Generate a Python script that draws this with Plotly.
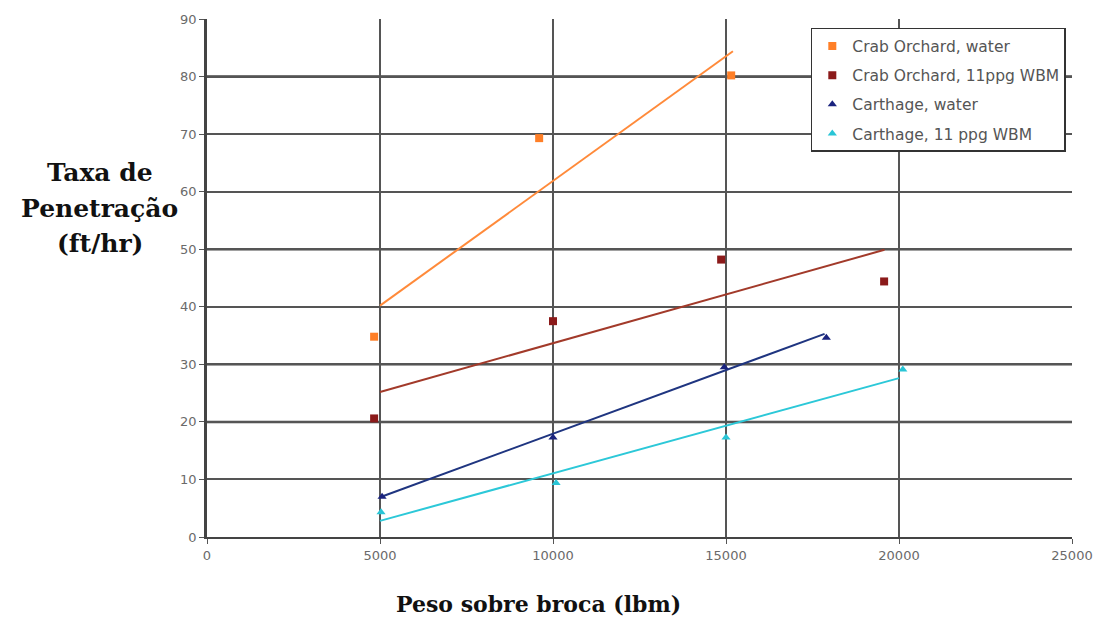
import plotly.graph_objects as go

# Data points
co_water_x = [4830, 9600, 15150]
co_water_y = [34.8, 69.3, 80.2]
co_wbm_x = [4830, 10000, 14860, 19570]
co_wbm_y = [20.6, 37.5, 48.2, 44.4]
ca_water_x = [5060, 10000, 14950, 17900]
ca_water_y = [7.0, 17.3, 29.5, 34.6]
ca_wbm_x = [5030, 10090, 15000, 20110]
ca_wbm_y = [4.3, 9.4, 17.3, 29.1]

# Trend line endpoints
co_water_tx = [5000, 15200]
co_water_ty = [40.2, 84.4]
co_wbm_tx = [5000, 19580]
co_wbm_ty = [25.2, 49.9]
ca_water_tx = [5000, 17850]
ca_water_ty = [6.9, 35.3]
ca_wbm_tx = [5000, 20000]
ca_wbm_ty = [2.8, 27.6]

x_ticks = [0, 5000, 10000, 15000, 20000, 25000]
x_ticklabels = ["0", "5000", "10000", "15000", "20000", "25000"]
y_ticks = [0, 10, 20, 30, 40, 50, 60, 70, 80, 90]

names = ["Crab Orchard, water", "Crab Orchard, 11ppg WBM", "Carthage, water", "Carthage, 11 ppg WBM"]
colors = ["#ff7f27", "#8b1a1a", "#1a237e", "#29c5d6"]
line_colors = ["#ff8a3a", "#a23a2a", "#1f3580", "#2cc8d8"]
symbols = ["square", "square", "triangle-up", "triangle-up"]

xs = [co_water_x, co_wbm_x, ca_water_x, ca_wbm_x]
ys = [co_water_y, co_wbm_y, ca_water_y, ca_wbm_y]
txs = [co_water_tx, co_wbm_tx, ca_water_tx, ca_wbm_tx]
tys = [co_water_ty, co_wbm_ty, ca_water_ty, ca_wbm_ty]

fig = go.Figure()
for i in range(4):
    fig.add_trace(go.Scatter(x=txs[i], y=tys[i], mode="lines",
                             line=dict(color=line_colors[i], width=2),
                             showlegend=False, hoverinfo="skip"))
for i in range(4):
    fig.add_trace(go.Scatter(x=xs[i], y=ys[i], mode="markers", name=names[i],
                             legendgroup="g%d" % i,
                             marker=dict(color=colors[i], symbol=symbols[i], size=8,
                                         line=dict(width=0))))

# thicker horizontal grid lines (as in the scanned original)
for yv in [80, 50, 30, 20]:
    fig.add_shape(type="line", xref="x", yref="y", x0=0, x1=25000, y0=yv, y1=yv,
                  line=dict(color="#444444", width=2.5), layer="below")

L, R, T, B = 207, 27, 18, 87
PW, PH = 1105 - L - R, 624 - T - B

tickfont = dict(family="DejaVu Sans", size=13, color="#6a6a6a")
fig.update_layout(
    width=1105, height=624,
    margin=dict(l=L, r=R, t=T, b=B),
    paper_bgcolor="white", plot_bgcolor="white",
    xaxis=dict(range=[0, 25000], tickvals=x_ticks, ticktext=x_ticklabels,
               showgrid=True, gridcolor="#555555", gridwidth=1.5,
               ticks="outside", ticklen=5, tickcolor="#555555",
               tickfont=tickfont, zeroline=False, showline=True,
               linecolor="#444444", linewidth=2),
    yaxis=dict(range=[0, 90], tickvals=y_ticks,
               showgrid=True, gridcolor="#555555", gridwidth=1.5,
               ticks="outside", ticklen=5, tickcolor="#555555",
               tickfont=tickfont, zeroline=False, showline=True,
               linecolor="#444444", linewidth=2.5),
    legend=dict(x=(815 - L) / PW, y=(537 - 27) / PH, xanchor="left", yanchor="top",
                bgcolor="white", bordercolor="#333333", borderwidth=1.5,
                font=dict(family="DejaVu Sans", size=15.5, color="#555555"),
                tracegroupgap=6, itemwidth=30),
    showlegend=True,
)

for txt, yp in [("Taxa de", 172), ("Penetração", 208), ("(ft/hr)", 243)]:
    fig.add_annotation(text="<b>%s</b>" % txt, xref="paper", yref="paper",
                       x=(99 - L) / PW, y=(537 - yp) / PH,
                       xanchor="center", yanchor="middle", showarrow=False,
                       font=dict(family="DejaVu Serif", size=25, color="#111111"))
fig.add_annotation(text="<b>Peso sobre broca (lbm)</b>", xref="paper", yref="paper",
                   x=(541 - L) / PW, y=(537 - 604) / PH, xanchor="center", yanchor="middle",
                   showarrow=False,
                   font=dict(family="DejaVu Serif", size=22, color="#111111"))

fig.write_html("out.html")
